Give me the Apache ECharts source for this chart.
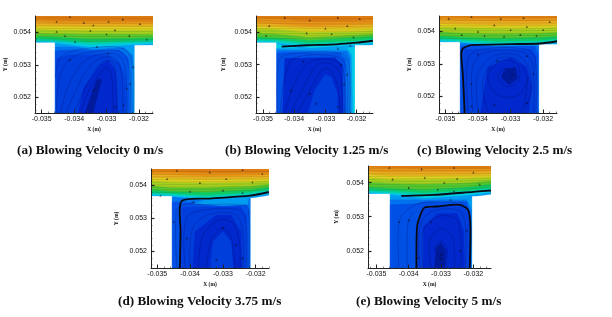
<!DOCTYPE html>
<html><head><meta charset="utf-8">
<style>html,body{margin:0;padding:0;background:#fff}#c{width:612px;height:317px;filter:blur(.45px)}</style>
<script src="https://cdn.jsdelivr.net/npm/echarts@6/dist/echarts.min.js"></script>
</head><body><div id="c"></div>
<script>
// Tick labels (metres)
const xTicks=[-0.035,-0.034,-0.033,-0.032];
const yTicks=[0.052,0.053,0.054];
const xMinor=[-0.0352,-0.0348,-0.0346,-0.0344,-0.0342,-0.0338,-0.0336,-0.0334,-0.0332,-0.0328,-0.0326,-0.0324,-0.0322,-0.0318,-0.0316];
const yMinor=[0.0516,0.0518,0.0522,0.0524,0.0526,0.0528,0.0532,0.0534,0.0536,0.0538,0.0542,0.0544];
const levelColors=['#0028cc','#003edc','#0050e6','#0072ee','#009cf0','#00cbe6','#00d0a8','#12c860','#55c830','#a4d020','#dccf20','#e8b020','#e89418','#de7c12','#001a9c'];

// Channel contours: level, then lower boundary y (mm) at x = left edge, -34.6, -33.5, -32.1, right edge
const bandXInner=[-34.6,-33.5,-32.1];
const bandsA=[[4,53.66,53.66,53.48,53.56,53.6],[5,53.71,53.68,53.55,53.62,53.65],[6,53.74,53.72,53.62,53.68,53.7],[7,53.8,53.78,53.7,53.74,53.76],[8,53.88,53.86,53.8,53.82,53.84],[9,53.98,53.96,53.95,53.94,53.94],[10,54.1,54.08,54.06,54.06,54.06],[11,54.2,54.19,54.18,54.18,54.18],[12,54.3,54.28,54.27,54.27,54.27],[13,54.4,54.38,54.36,54.36,54.36]];
const bandsB=[[4,53.66,53.66,53.45,53.55,53.6],[5,53.7,53.68,53.52,53.6,53.66],[6,53.74,53.72,53.6,53.66,53.72],[7,53.8,53.78,53.68,53.74,53.8],[8,53.86,53.84,53.76,53.84,53.88],[9,53.98,53.96,53.85,53.92,53.96],[10,54.12,54.1,54,54.03,54.06],[11,54.2,54.18,54.12,54.14,54.16],[12,54.3,54.26,54.2,54.24,54.26],[13,54.44,54.42,54.34,54.36,54.38]];
const bandsC=[[4,53.66,53.66,53.55,53.58,53.6],[5,53.7,53.68,53.58,53.62,53.66],[6,53.74,53.7,53.63,53.66,53.72],[7,53.8,53.76,53.7,53.72,53.78],[8,53.88,53.84,53.8,53.82,53.86],[9,54,53.96,53.94,53.95,53.98],[10,54.14,54.12,54.1,54.1,54.12],[11,54.24,54.22,54.2,54.2,54.22],[12,54.36,54.34,54.32,54.32,54.34],[13,54.46,54.45,54.43,54.43,54.44]];
const bandsD=[[4,53.66,53.66,53.55,53.62,53.7],[5,53.7,53.68,53.6,53.68,53.76],[6,53.74,53.72,53.64,53.74,53.82],[7,53.8,53.76,53.7,53.8,53.88],[8,53.88,53.82,53.8,53.88,53.96],[9,54,53.94,53.94,53.98,54.04],[10,54.14,54.1,54.08,54.1,54.14],[11,54.24,54.22,54.18,54.2,54.22],[12,54.34,54.32,54.28,54.3,54.32],[13,54.44,54.42,54.38,54.38,54.4]];
const bandsE=[[4,53.64,53.62,53.5,53.58,53.66],[5,53.7,53.66,53.55,53.64,53.72],[6,53.74,53.7,53.62,53.7,53.78],[7,53.8,53.76,53.7,53.78,53.86],[8,53.88,53.84,53.8,53.88,53.96],[9,54.02,53.98,53.96,54,54.06],[10,54.14,54.1,54.1,54.12,54.16],[11,54.24,54.2,54.2,54.22,54.24],[12,54.34,54.32,54.32,54.32,54.34],[13,54.46,54.44,54.42,54.42,54.42]];

// Cavity contours: level, closed outline (mm); y 51 is below the frame and gets clipped by the frame
const contoursA=[[4,[[-34.6,51],[-34.6,53.7],[-32.13,53.7],[-32.13,51]]],
[3,[[-34.6,51],[-34.6,53.55],[-32.5,53.55],[-32.2,53.3],[-32.18,51]]],
[2,[[-34.6,51],[-34.6,53.42],[-34.4,53.45],[-32.6,53.45],[-32.32,53.2],[-32.28,51]]],
[1,[[-34.55,51],[-34.55,53.2],[-34.2,53.3],[-33,53.32],[-32.6,53.05],[-32.42,52.6],[-32.4,51]]],
[0,[[-34,51],[-33.7,52.3],[-33.2,53],[-32.95,53.15],[-32.72,52.8],[-32.62,51]]],
[14,[[-33.85,51],[-33.55,51],[-33.15,52.55],[-33.3,52.55]]]];
const contoursB=[[5,[[-34.58,51],[-34.58,53.7],[-32.05,53.7],[-32.05,51]]],
[4,[[-34.58,51],[-34.58,53.5],[-32.3,53.5],[-32.16,53.3],[-32.12,51]]],
[3,[[-34.58,51],[-34.58,53.45],[-32.3,53.42],[-32.21,53.2],[-32.2,51]]],
[2,[[-34.58,51],[-34.58,53.36],[-34.3,53.38],[-32.55,53.36],[-32.35,53.15],[-32.33,51]]],
[0,[[-34.4,51],[-34.3,53.2],[-32.7,53.22],[-32.45,53],[-32.42,51]]],
[1,[[-33.7,51],[-33.35,52.2],[-33,52.7],[-32.8,52.6],[-32.62,52.1],[-32.58,51]]]];
const contoursC=[[3,[[-34.56,51],[-34.56,53.7],[-32.12,53.7],[-32.12,51]]],
[2,[[-34.56,51],[-34.56,53.55],[-32.25,53.55],[-32.15,53.3],[-32.15,51]]],
[1,[[-34.4,51],[-34.45,53.45],[-32.35,53.45],[-32.22,53.2],[-32.22,51]]],
[0,[[-34,51],[-33.7,52.9],[-33,53.2],[-32.5,52.9],[-32.35,52.3],[-32.5,51]]],
[14,[[-33.15,52.85],[-32.85,52.9],[-32.78,52.55],[-33.05,52.35],[-33.3,52.6]]]];
const contoursD=[[3,[[-34.56,51],[-34.56,53.7],[-32.15,53.7],[-32.15,51]]],
[2,[[-34.56,51],[-34.56,53.5],[-32.28,53.45],[-32.2,53.2],[-32.2,51]]],
[4,[[-33.9,53.45],[-33.4,53.6],[-32.2,53.68],[-32.25,53.42],[-33,53.38]]],
[1,[[-34.3,51],[-34.26,53.34],[-32.45,53.36],[-32.28,53.1],[-32.28,51]]],
[0,[[-33.95,51],[-33.85,52.6],[-33.2,53.1],[-32.75,53.1],[-32.45,52.6],[-32.4,51]]],
[1,[[-33.45,51],[-33.3,52.3],[-33,52.6],[-32.75,52.3],[-32.65,51]]]];
const contoursE=[[4,[[-34.59,51],[-34.59,53.7],[-32.03,53.7],[-32.03,51]]],
[3,[[-34.59,51],[-34.59,53.5],[-32.2,53.5],[-32.05,53.2],[-32.05,51]]],
[2,[[-34.59,51],[-34.59,53.35],[-33.8,53.38],[-33.5,53.44],[-32.2,53.44],[-32.08,53],[-32.08,51]]],
[1,[[-33.76,51],[-33.74,52.71],[-33.56,53.2],[-33.14,53.3],[-32.42,53.35],[-32.16,53.2],[-32.09,52.71],[-32.11,51]]],
[0,[[-33.55,51],[-33.55,52.7],[-33.1,53.1],[-32.5,53.1],[-32.3,52.6],[-32.25,51]]],
[14,[[-33.2,51.52],[-33.15,52.1],[-33,52.25],[-32.85,52],[-32.88,51.52]]]];

// Channel streamlines: y at left edge and right edge (mm)
const flowA=[[54.44,54.42],[54.36,54.34],[54.28,54.26],[54.2,54.18],[54.12,54.1],[54.04,54.02],[53.96,53.94],[53.88,53.86],[53.8,53.78],[53.73,53.72]];
const flowB=[[54.44,54.42],[54.36,54.33],[54.28,54.25],[54.2,54.17],[54.12,54.1],[54.04,54.03],[53.96,53.96],[53.88,53.9],[53.8,53.84]];
const flowC=[[54.42,54.42],[54.34,54.34],[54.26,54.26],[54.18,54.18],[54.1,54.1],[54.02,54.03],[53.94,53.95],[53.86,53.88],[53.78,53.8]];
const flowD=[[54.42,54.42],[54.34,54.35],[54.26,54.27],[54.18,54.19],[54.1,54.12],[54.02,54.05],[53.94,53.98],[53.86,53.92],[53.78,53.86]];
const flowE=[[54.42,54.42],[54.34,54.35],[54.26,54.27],[54.18,54.2],[54.1,54.13],[54.02,54.06],[53.94,53.99],[53.86,53.92],[53.78,53.85]];

// Cavity streamlines (mm)
const streamsA=[[[-34,51.52],[-33.75,52.1],[-33.4,52.75],[-33.1,53.1],[-32.85,53.1],[-32.72,52.7],[-32.68,51.52]],
[[-34.25,51.52],[-33.95,52.2],[-33.6,52.85],[-33.2,53.2],[-32.75,53.2],[-32.55,52.8],[-32.5,51.52]],
[[-34.42,51.52],[-34.2,52.3],[-33.8,53],[-33.3,53.3],[-32.65,53.3],[-32.42,52.8],[-32.38,51.52]],
[[-34.55,51.52],[-34.45,52.6],[-34.1,53.2],[-33.4,53.4],[-32.55,53.4],[-32.3,52.9],[-32.27,51.52]],
[[-34.58,52.6],[-34.4,53.25],[-33.6,53.5],[-32.5,53.5],[-32.2,53.05],[-32.18,51.52]],
[[-33.8,51.52],[-33.55,52.2],[-33.3,52.6],[-33,52.9],[-32.85,52.7],[-32.8,51.52]]];
const streamsB=[[[-33.9,51.52],[-33.5,52.2],[-33.1,52.85],[-32.85,52.85],[-32.6,52.3],[-32.52,51.52]],
[[-34.1,51.52],[-33.7,52.3],[-33.25,53],[-32.75,53],[-32.5,52.6],[-32.46,51.52]],
[[-34.3,51.52],[-34,52.4],[-33.5,53.08],[-32.7,53.12],[-32.42,52.8],[-32.38,51.52]],
[[-34.45,51.52],[-34.3,52.6],[-34,53.2],[-32.65,53.25],[-32.33,52.9],[-32.3,51.52]],
[[-34.54,51.52],[-34.5,53.1],[-34.2,53.32],[-32.55,53.36],[-32.25,53.05],[-32.22,51.52]]];
const streamsC=[[[-32.95,52.7],[-33.15,52.85],[-33.4,52.6],[-33.1,52.3],[-32.75,52.5],[-32.8,53],[-33.3,53.1],[-33.7,52.6],[-33.4,52.05],[-32.75,52.05],[-32.45,52.6]],
[[-34,51.52],[-34,52.7],[-33.5,53.25],[-32.75,53.25],[-32.42,52.8],[-32.4,52],[-32.7,51.52]],
[[-34.15,51.52],[-34.17,52.9],[-33.8,53.35],[-32.65,53.37],[-32.32,53],[-32.3,51.52]],
[[-34.3,51.52],[-34.32,53.1],[-34,53.43],[-32.5,53.45],[-32.24,53.15],[-32.22,51.52]],
[[-33.7,51.52],[-33.85,52.5],[-33.4,53.15],[-32.8,53.13],[-32.5,52.6],[-32.6,51.7]]];
const streamsD=[[[-33.5,51.52],[-33.35,52.35],[-33,52.7],[-32.75,52.4],[-32.62,51.52]],
[[-33.75,51.52],[-33.6,52.5],[-33.1,52.95],[-32.7,52.85],[-32.5,52.3],[-32.48,51.52]],
[[-34,51.52],[-33.9,52.75],[-33.3,53.15],[-32.6,53.1],[-32.4,52.6],[-32.38,51.52]],
[[-34.15,51.52],[-34.12,53],[-33.6,53.25],[-32.5,53.25],[-32.3,52.9],[-32.28,51.52]],
[[-34.4,51.52],[-34.42,53.2],[-34.2,53.42],[-33.6,53.42],[-32.3,53.38],[-32.2,53.1],[-32.2,51.52]]];
const streamsE=[[[-33.05,51.8],[-33.2,52.1],[-33,52.3],[-32.82,52.05],[-32.85,51.52]],
[[-33.3,51.52],[-33.35,52.3],[-33,52.65],[-32.65,52.4],[-32.58,51.52]],
[[-33.55,51.52],[-33.55,52.6],[-33.1,53],[-32.55,52.95],[-32.4,52.5],[-32.38,51.52]],
[[-33.65,51.52],[-33.65,52.7],[-33.3,53.15],[-32.45,53.18],[-32.25,52.8],[-32.25,51.52]],
[[-34.3,51.52],[-34.28,52.9],[-33.9,53.3],[-33.5,53.42],[-32.3,53.42]],
[[-34.05,51.52],[-34.02,52.8],[-33.85,53.15]]];

// Heavy separating lines (mm)
const thickA=[];
const thickB=[[[-34.4,53.56],[-33.6,53.6],[-32.64,53.63],[-32,53.68],[-31.48,53.74]]];
const thickC=[[[-34.41,51.49],[-34.46,52.6],[-34.51,53.3],[-34.46,53.48],[-34.2,53.58],[-33,53.61],[-32.1,53.63],[-31.57,53.7]]];
const thickD=[[[-34.31,51.5],[-34.29,52.6],[-34.26,53.52],[-33.4,53.6],[-32.18,53.69],[-31.6,53.8]]];
const thickE=[[[-33.76,51.5],[-33.74,52.71],[-33.62,53.1],[-33.5,53.27],[-33.14,53.3],[-32.42,53.35],[-32.16,53.2],[-32.09,52.71],[-32.11,51.5]],
[[-34.23,53.61],[-33.25,53.64],[-32,53.73],[-31.45,53.77]]];

// Velocity vector heads (mm)
const dotsA=[[-34.13,54.48],[-34.54,54.33],[-33.41,54.22],[-32.94,54.33],[-31.97,54.26],[-32.74,54.07],[-33,53.94],[-34.28,53.89],[-34.54,54.02],[-33.3,53.56],[-32.94,53.35],[-34.13,53.15],[-32.18,52.94],[-32.27,52.43],[-32.38,52.28],[-33.41,52.22],[-32.48,51.76],[-32.74,51.71],[-33.97,53.71],[-31.76,53.78],[-33.7,54.3],[-32.5,54.4],[-33.5,54.05],[-32.3,53.9]];
const dotsB=[[-34.3,54.46],[-33.5,54.38],[-32.6,54.46],[-31.9,54.42],[-34.8,54.2],[-33,54.12],[-32.3,54.2],[-33.6,53.98],[-32.8,53.95],[-34.9,53.9],[-32.1,53.85],[-34,53.58],[-33.2,53.62],[-32.6,53.5],[-32.2,53.6],[-34.1,52.2],[-33.5,52.1],[-32.4,52.4],[-32.3,52.7],[-33.7,53.1],[-32.5,53],[-33.3,51.8],[-32.6,51.7]];
const dotsC=[[-34.9,54.4],[-34.2,54.45],[-33.3,54.4],[-32.6,54.42],[-31.8,54.3],[-34.7,54.1],[-34,54],[-33.5,54.2],[-33,54.05],[-32.5,54.15],[-32,54.05],[-34.5,53.9],[-33.8,53.87],[-33.2,53.85],[-32.7,53.9],[-32.2,53.87],[-34,53.3],[-33.4,53.1],[-32.5,53.25],[-32.3,52.7],[-34.2,52.4],[-33.5,51.75],[-32.5,51.8],[-32.95,52.67],[-34.2,51.7]];
const dotsD=[[-34.4,54.45],[-33.4,54.4],[-32.4,54.47],[-31.8,54.35],[-34.7,54.2],[-33.7,54.08],[-32.9,54.2],[-32.1,54.1],[-34,53.82],[-33,53.85],[-32.4,53.78],[-34.9,53.7],[-34.5,52.9],[-34.1,52.4],[-33,52.72],[-32.6,52.2],[-32.4,51.8],[-33.2,51.75],[-33.9,53.5]];
const dotsE=[[-34.6,54.44],[-33.6,54.4],[-32.6,54.44],[-32,54.3],[-34.5,54.1],[-33.5,54.15],[-32.5,54.12],[-31.8,53.95],[-34,53.85],[-33.1,53.8],[-32.6,53.75],[-32.9,54],[-33.3,52.85],[-34.3,52.85],[-34,52.9],[-33,51.78],[-33,51.9],[-32.4,52],[-32.2,52.6],[-33.7,51.8],[-32.7,53.5]];

// Caption text
const captions=['(a) Blowing Velocity 0 m/s','(b) Blowing Velocity 1.25 m/s','(c) Blowing Velocity 2.5 m/s','(d) Blowing Velocity 3.75 m/s','(e) Blowing Velocity 5 m/s'];

const panels=[
{box:[35,16,118,97],xr:[-35.207,-31.568],yr:[51.517,54.5],cav:[-34.6,-32.13],ledge:[53.68,53.6],bands:bandsA,contours:contoursA,flow:flowA,streams:streamsA,thick:thickA,dots:dotsA,cap:[17,144],gap:26},
{box:[256,16,117,97],xr:[-35.224,-31.474],yr:[51.503,54.506],cav:[-34.58,-32.05],ledge:[53.68,53.6],bands:bandsB,contours:contoursB,flow:flowB,streams:streamsB,thick:thickB,dots:dotsB,cap:[225,144],gap:29},
{box:[439,16,118,97],xr:[-35.197,-31.575],yr:[51.49,54.477],cav:[-34.56,-32.12],ledge:[53.67,53.6],bands:bandsC,contours:contoursC,flow:flowC,streams:streamsC,thick:thickC,dots:dotsC,cap:[417,144],gap:26},
{box:[151,169,118,99],xr:[-35.19,-31.596],yr:[51.497,54.497],cav:[-34.56,-32.15],ledge:[53.67,53.61],bands:bandsD,contours:contoursD,flow:flowD,streams:streamsD,thick:thickD,dots:dotsD,cap:[118,295],gap:31},
{box:[368,166,123,102],xr:[-35.26,-31.452],yr:[51.497,54.488],cav:[-34.59,-32.03],ledge:[53.67,53.59],bands:bandsE,contours:contoursE,flow:flowE,streams:streamsE,thick:thickE,dots:dotsE,cap:[356,295],gap:28}];

const m=v=>v/1000;
const mp=p=>[m(p[0]),m(p[1])];
const labelFont={fontFamily:'Liberation Sans',fontSize:7,color:'#111'};
const nameFont={fontFamily:'Liberation Serif',fontWeight:'bold',fontSize:5.5,color:'#111'};
const grids=[],xAxes=[],yAxes=[],series=[],titles=[];

panels.forEach((p,i)=>{
  const [l,t,w,h]=p.box;
  grids.push({left:l,top:t,width:w,height:h});
  const gi=grids.length-1;
  const xb={gridIndex:gi,type:'value',position:'bottom',min:m(p.xr[0]),max:m(p.xr[1]),splitLine:{show:false},z:6};
  const yb={gridIndex:gi,type:'value',position:'left',min:m(p.yr[0]),max:m(p.yr[1]),splitLine:{show:false},z:6};
  xAxes.push({...xb,name:'X (m)',nameLocation:'middle',nameGap:14,nameTextStyle:nameFont,
    axisLine:{onZero:false,lineStyle:{color:'#222',width:1}},
    axisTick:{inside:true,length:3.5,customValues:xTicks,lineStyle:{color:'#222'}},
    axisLabel:{...labelFont,margin:3,customValues:xTicks,formatter:v=>v.toFixed(3)}});
  xAxes.push({...xb,axisLine:{show:false},axisLabel:{show:false},
    axisTick:{inside:true,length:1.5,customValues:xMinor,lineStyle:{color:'#333',width:.6}}});
  yAxes.push({...yb,name:'Y (m)',nameLocation:'middle',nameGap:p.gap,nameTextStyle:nameFont,
    axisLine:{onZero:false,lineStyle:{color:'#222',width:1}},
    axisTick:{inside:true,length:3.5,customValues:yTicks,lineStyle:{color:'#222',width:1.2}},
    axisLabel:{...labelFont,margin:4,customValues:yTicks,formatter:v=>v.toFixed(3)}});
  yAxes.push({...yb,axisLine:{show:false},axisLabel:{show:false},
    axisTick:{inside:true,length:1.5,customValues:yMinor,lineStyle:{color:'#333',width:.6}}});

  // field polygons painted back to front
  const polys=[];
  p.contours.forEach(c=>polys.push({fill:levelColors[c[0]],pts:c[1]}));
  const bx=[p.xr[0],...bandXInner,p.xr[1]];
  p.bands.forEach(b=>{
    const lower=bx.map((x,k)=>[x,b[k+1]]);
    polys.push({fill:levelColors[b[0]],pts:[...lower,[p.xr[1],p.yr[1]],[p.xr[0],p.yr[1]]]});
  });
  polys.push({fill:'#fff',pts:[[p.xr[0],p.yr[0]],[p.cav[0],p.yr[0]],[p.cav[0],p.ledge[0]],[p.xr[0],p.ledge[0]]]});
  polys.push({fill:'#fff',pts:[[p.cav[1],p.yr[0]],[p.xr[1],p.yr[0]],[p.xr[1],p.ledge[1]],[p.cav[1],p.ledge[1]]]});
  const ax={xAxisIndex:i*2,yAxisIndex:i*2,silent:true,animation:false};
  series.push({...ax,type:'custom',z:2,clip:true,data:polys.map((_,k)=>[k,k]),
    renderItem:(ps,api)=>{const q=polys[ps.dataIndex];
      return {type:'polygon',shape:{points:q.pts.map(pt=>api.coord(mp(pt)))},style:{fill:q.fill,stroke:q.fill,lineWidth:.3}};}});

  // lines
  const lines=[];
  p.flow.forEach(f=>lines.push({pts:[[p.xr[0],f[0]],[p.xr[1],f[1]]],s:'rgba(40,30,0,.2)',w:.6,sm:0}));
  p.streams.forEach(s=>lines.push({pts:s,s:'rgba(0,0,70,.32)',w:.7,sm:.35}));
  p.thick.forEach(s=>lines.push({pts:s,s:'#0a0a14',w:1.8,sm:.25}));
  series.push({...ax,type:'custom',z:3,clip:true,data:lines.map((_,k)=>[k,k]),
    renderItem:(ps,api)=>{const q=lines[ps.dataIndex];
      return {type:'polyline',shape:{points:q.pts.map(pt=>api.coord(mp(pt))),smooth:q.sm},style:{stroke:q.s,lineWidth:q.w,fill:null}};}});

  series.push({...ax,type:'scatter',z:4,symbol:'triangle',symbolSize:2.3,itemStyle:{color:'rgba(10,10,20,.75)'},data:p.dots.map(mp)});

  titles.push({text:captions[i],left:p.cap[0],top:p.cap[1],padding:0,textStyle:{fontFamily:'Liberation Serif',fontWeight:'bold',fontSize:13.2,color:'#111'}});
});

echarts.init(document.getElementById('c')).setOption({animation:false,backgroundColor:'#fff',title:titles,grid:grids,xAxis:xAxes,yAxis:yAxes,series});
</script></body></html>
